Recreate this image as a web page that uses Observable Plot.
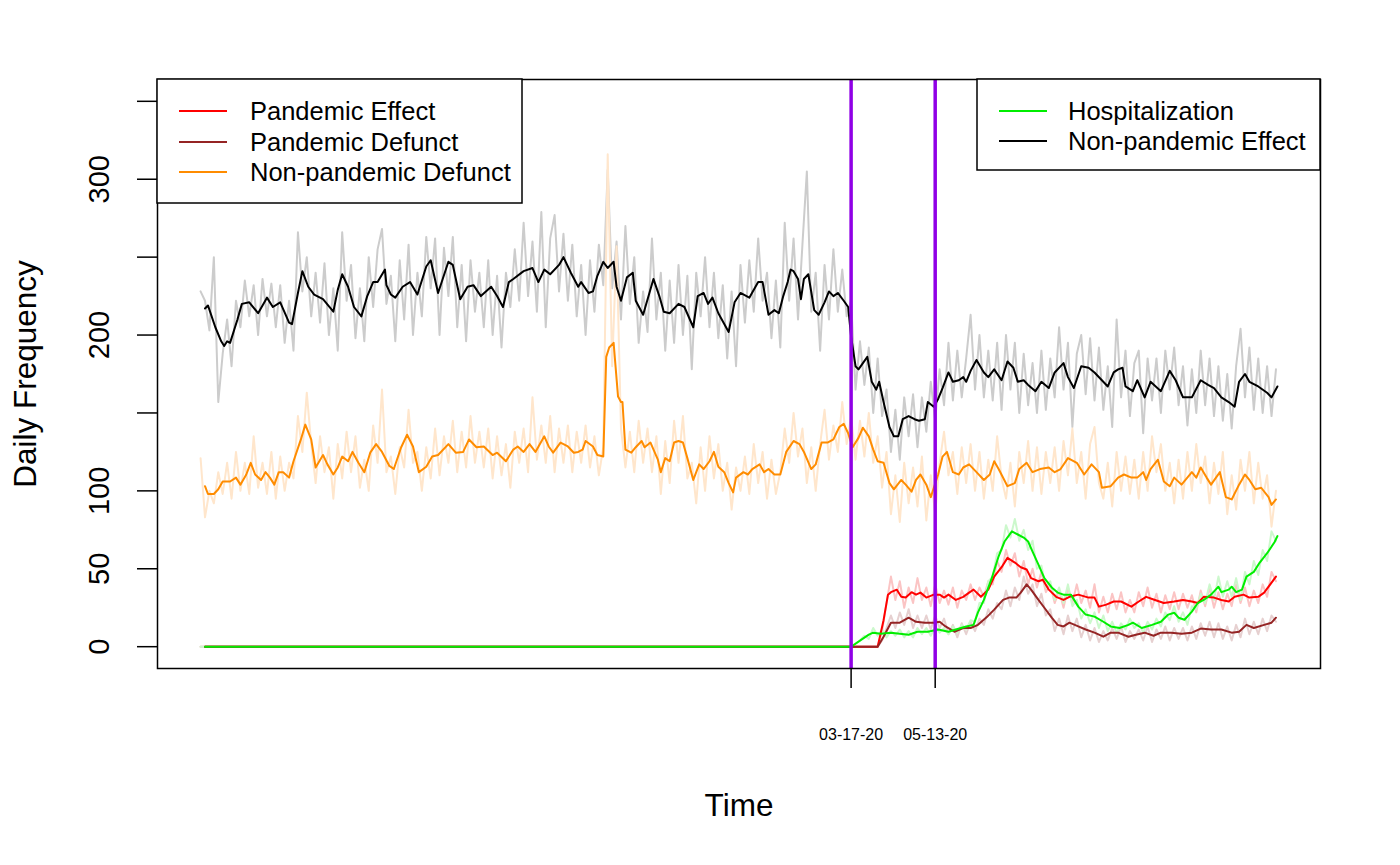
<!DOCTYPE html>
<html>
<head>
<meta charset="utf-8">
<script src="https://cdn.jsdelivr.net/npm/d3@7"></script>
<script src="https://cdn.jsdelivr.net/npm/@observablehq/plot@0.6"></script>
<style>
  html, body { margin: 0; padding: 0; background: #fff; }
  #chart svg { display: block; }
</style>
</head>
<body>
<div id="chart"></div>
<script>
// ---------- DATA ----------
const startDate = "2019-01-01";          // day 0 of the series
const markerDays = [441, 498];           // 03-17-20, 05-13-20
const rawStep = 3;                       // raw series sampled every 3 days
const pandemicRawStart = 441;

// Non-pandemic Effect (raw, grey)
const nonPandemicEffectRaw = [
228,222,203,250,157,188,210,180,222,205,
235,212,232,200,236,212,233,205,232,195,
222,190,266,228,250,212,240,208,246,200,
230,190,266,222,245,198,230,196,250,218,
255,268,220,238,196,248,210,258,200,240,
212,263,230,262,200,256,225,263,205,245,
196,248,215,240,205,248,200,238,192,240,
218,255,222,272,225,260,215,279,205,262,
277,228,265,222,258,212,245,200,248,215,
258,232,306,230,260,210,270,220,250,195,
228,202,262,210,240,190,235,195,245,200,
238,178,240,212,250,205,240,198,232,185,
228,180,245,208,248,215,262,222,240,198,
235,192,272,222,262,210,258,305,215,240,
190,245,210,255,215,242,212,222,165,196,
168,192,150,185,148,165,125,152,120,160,
135,162,128,160,138,170,145,178,155,195,
158,190,160,185,213,165,200,160,190,158,
195,152,200,165,195,150,188,155,182,150,
190,152,185,160,205,165,195,141,188,200,
162,198,158,192,152,180,141,210,160,190,
148,182,190,137,185,158,185,150,190,165,
192,155,180,142,178,150,190,155,185,148,
180,145,175,140,180,204,160,192,152,185,
150,180,148,178];

// Non-pandemic Defunct (raw, light orange)
const nonPandemicDefunctRaw = [
121,83,100,92,112,98,118,95,125,100,
118,98,135,102,118,98,125,95,122,100,
118,108,148,125,163,130,105,135,112,128,
95,130,108,138,112,135,102,120,100,142,
118,165,112,122,98,128,115,152,118,125,
100,128,108,140,110,135,118,145,112,138,
115,148,118,138,115,140,108,135,110,130,
102,138,118,140,112,160,120,142,118,148,
112,140,118,142,112,138,118,142,115,135,
110,128,316,180,257,140,115,138,112,145,
118,140,112,135,98,132,105,145,118,148,
108,118,92,128,100,135,108,130,100,118,
88,115,100,122,98,130,105,125,95,120,
98,112,140,118,150,122,140,105,128,100,
130,152,120,142,125,157,130,148,120,145,
122,150,118,135,102,125,85,110,80,118,
92,115,90,122,81,110,85,118,138,110,
125,98,128,105,130,100,125,95,120,100,
135,108,95,118,90,125,105,132,100,128,
98,125,105,128,100,132,110,140,105,125,
95,130,141,105,95,118,90,125,100,122,
98,120,95,125,100,135,112,130,100,118,
92,120,95,125,100,130,105,122,92,118,
98,125,85,110,88,120,100,125,92,118,
95,110,77,100];

// Pandemic raw series, every 3 days from day 441 (zero before)
const pandemicEffectRaw = [
0,0,0,0,0,0,0,
10,28,45,30,42,25,38,28,44,30,
38,26,40,28,36,27,38,25,36,30,
40,30,38,32,42,40,55,48,62,52,
60,45,55,40,50,38,48,35,40,28,
36,25,38,28,40,28,36,25,40,22,
32,22,34,24,35,22,30,22,35,26,
38,25,34,22,33,24,35,24,34,25,
33,22,36,26,38,25,35,24,34,26,
40,28,38,26,36,28,40,32,48,42];
const pandemicDefunctRaw = [
0,0,0,0,0,0,0,
4,12,20,12,22,14,24,12,20,12,
20,11,20,12,18,8,14,6,15,8,
16,10,18,14,24,18,28,24,36,26,
38,30,45,34,40,26,34,20,24,10,
18,8,20,10,18,6,14,4,12,3,
10,4,12,5,13,3,10,5,11,4,
13,3,11,5,13,4,12,5,12,4,
13,5,15,7,16,6,15,5,13,4,
14,6,18,8,16,8,18,10,20,16];
const hospitalizationRaw = [
0,2,4,7,5,12,7,
11,6,10,7,11,6,10,6,12,8,
12,7,13,9,12,8,13,9,14,11,
17,16,28,28,42,45,60,62,78,70,
82,68,75,62,68,50,52,38,42,30,
38,28,40,26,30,18,24,15,22,12,
20,10,16,9,15,11,18,12,15,9,
16,11,18,13,22,17,26,16,22,14,
26,24,34,28,40,30,45,32,42,32,
44,30,48,40,55,46,62,55,74,68];

// Smoothed series (day index, value)
const nonPandemicEffectDays = [3,5,10,14,16,18,20,25,28,33,39,45,49,54,60,62,66,69,73,77,83,90,93,96,100,104,109,113,117,120,125,126,129,132,137,142,147,153,156,161,168,171,176,181,185,190,197,201,205,209,212,219,225,229,233,237,243,246,251,256,258,263,266,269,273,276,280,282,285,289,293,295,300,307,311,314,318,324,328,334,337,341,344,347,351,358,362,366,372,378,381,385,389,392,395,398,400,402,405,407,409,412,416,419,423,426,429,432,436,439,441,444,446,449,452,455,458,460,463,467,470,473,476,480,484,487,491,493,497,500,503,507,510,514,517,519,522,526,531,534,538,543,547,551,554,558,561,566,570,575,579,585,588,592,597,602,606,611,615,619,622,625,627,632,635,640,644,651,657,661,666,672,678,683,687,692,697,701,704,708,711,717,723,726,730];
const nonPandemicEffectSmooth = [217,219,205,196,193,196,195,210,220,221,214,224,218,221,208,207,227,241,231,226,223,215,229,239,231,218,212,225,234,234,242,232,226,224,231,234,226,244,248,227,247,245,223,231,232,225,231,225,218,234,236,241,243,234,242,239,245,250,240,231,234,227,228,238,247,243,247,231,222,237,240,222,213,236,225,215,214,220,218,205,225,227,220,224,214,202,221,227,224,234,234,213,216,214,225,234,242,241,236,223,236,239,216,213,221,228,225,227,222,218,199,180,178,182,186,170,165,170,157,141,135,135,146,148,146,145,146,157,154,159,166,176,170,171,173,170,177,184,176,173,178,171,183,179,170,171,168,164,170,166,176,182,173,166,180,179,176,171,167,176,178,179,167,164,171,160,170,164,177,171,160,160,171,168,166,160,157,154,170,175,170,167,163,160,167];

const nonPandemicDefunctDays = [3,5,9,12,15,20,24,27,31,34,37,41,44,47,50,53,56,60,63,68,71,75,78,83,86,90,93,96,100,103,107,111,115,119,123,128,131,136,140,144,148,153,157,161,168,173,178,182,187,192,198,201,207,212,215,219,223,227,233,236,239,244,249,253,256,259,261,266,269,273,275,277,280,283,285,286,288,292,295,299,301,305,310,312,315,318,321,324,327,330,334,338,341,345,348,351,355,358,361,363,368,371,374,379,382,385,389,393,397,402,406,409,414,417,421,425,429,433,436,439,442,446,449,453,456,459,463,467,470,475,478,482,485,488,492,495,500,503,506,510,514,517,521,526,531,535,538,541,547,552,555,560,564,569,575,579,583,588,594,599,604,609,611,617,622,626,631,635,639,641,644,649,653,657,660,665,672,675,678,682,685,691,695,699,704,708,711,715,719,724,726,729];
const nonPandemicDefunctSmooth = [103,98,98,101,106,106,108.5,104,110.5,118,110.5,107,112,108.5,104,112,112,108.5,119,133,142.5,133,115,123,117,110.5,115,122,119,125,118,112,124.5,130,125,116,114,128,136,128.5,112,115.5,122,123,130,124.5,125,133,128,128.5,123,124.5,119,126.5,128.5,125,130,125,135,128.5,124.5,131,128.5,124.5,125,126.5,132,128.5,123,122,186,192,195,160.5,157,157,126.5,124.5,128,132,128,131,120,112,121,119,131,132,131,121,107,117,114,119,125,115.5,112,105,99,108.5,112,110.5,114,117,112,114,110.5,110.5,125,132,130,125,114,117,131,131,133,141,143,137,128,134,140.5,135,126.5,119,118,105,101,107,104,99.5,107,110.5,104,96,110.5,122,125,112,110.5,115,117,112,107,110.5,119,114,103,105,114,118,112,114,115,112,114,121,118,110.5,117,112,102,103,108.5,110.5,108.5,108.5,112,107,114,120,106,103,108.5,104,112,108.5,115,108.5,104,112,96,94.5,104,110.5,107,101,102,96,91,94.5];

const pandemicEffectDays = [3,459,463,466,468,472,475,478,482,485,488,492,497,501,504,507,512,517,521,524,529,534,538,543,547,552,556,560,563,568,571,575,580,585,589,595,602,606,609,614,619,624,631,636,641,647,653,660,666,672,676,680,687,692,697,701,707,711,717,721,724,729];
const pandemicEffectSmooth = [0,0,17,33.4,35,36.6,32,31.5,35,33.4,34.7,31.5,33.4,33.4,31.5,33.4,30,32,34.7,36.6,32,36.6,45,51,57,54,51,49.5,44,42,43,36.6,32,30,32,33.4,31.5,31.5,25.7,27,29,29,25.7,29,32,30,28,29,30,29,28,32,31.5,30,29,32,33.4,31.5,32,34.7,38.5,45];

const pandemicDefunctDays = [3,459,463,468,474,480,485,491,497,501,505,511,517,522,527,533,538,544,548,553,556,560,563,568,572,577,581,585,589,595,600,606,612,617,622,629,634,640,646,651,658,665,672,678,685,692,699,704,709,714,721,726,729];
const pandemicDefunctSmooth = [0,0,6.4,15.4,15.4,18.6,16,15.4,15.4,16,13,9.6,12,12,14,19,23.8,30,31.5,31.5,34.7,40,36.6,30,25,18.6,14,13,15.4,13,11,9,6.4,9,9,6.4,7.7,9,7,9,9,8.3,9,11.6,11,11,9,9.6,14,12,14,15.4,18.6];

const hospitalizationDays = [3,441,442,448,453,456,461,468,474,480,486,493,500,507,512,519,524,527,531,536,541,545,550,554,558,561,564,568,572,577,581,585,590,595,600,606,612,617,623,629,632,638,645,651,656,660,663,667,672,676,680,685,690,692,697,699,702,706,709,714,718,723,728,730];
const hospitalizationSmooth = [0,0,0.6,4.5,7.7,9,8.3,9,8.3,7.7,9.6,9.6,11,9.6,11,13,14,22,30,43,58,67.5,74,72,70,67.5,61,52.7,44,38,34.7,33.4,33.4,25.7,20.6,19.3,16,13,12,14,15.4,12,14,16,20.6,21.8,18.6,17.3,22.5,28,30,33.4,38.5,35,36.6,38.5,35,36.6,45,48,54,60,67,71];

const yTicks = [0, 50, 100, 150, 200, 250, 300, 350];
const yTickLabels = [0, 50, 100, 200, 300];

const legendLeft = ["Pandemic Effect", "Pandemic Defunct", "Non-pandemic Defunct"];
const legendRight = ["Hospitalization", "Non-pandemic Effect"];

// ---------- STYLE ----------
const colors = {
  "Pandemic Effect": "#ff0000",
  "Pandemic Defunct": "#952424",
  "Non-pandemic Defunct": "#ff8c00",
  "Hospitalization": "#00ee00",
  "Non-pandemic Effect": "#000000"
};
const rawColors = {
  grey: "#cccccc", orange: "#ffe6cc", red: "#fbc4c4", brown: "#e6d0d0", green: "#ccf8cc"
};
const purple = "#9000e6";

// ---------- BUILD ----------
const day0 = new Date(startDate);
const toDate = d => new Date(day0.getTime() + d * 864e5);
const pairRows = (days, vals) => days.slice(0, Math.min(days.length, vals.length)).map((d, i) => ({date: toDate(d), v: vals[i]}));
const stepRows = (start, vals) => vals.map((v, i) => ({date: toDate(start + i * rawStep), v}));
const pandemicRows = vals => [{date: toDate(0), v: 0}, ...stepRows(pandemicRawStart, vals)];

const markerDates = markerDays.map(toDate);
const fmt = d3.utcFormat("%m-%d-%y");

const lw = 2;
const plot = Plot.plot({
  width: 1400,
  height: 865,
  marginLeft: 157,
  marginRight: 80,
  marginTop: 79,
  marginBottom: 197,
  style: {fontFamily: "'Liberation Sans', Arial, Helvetica, sans-serif", background: "white", color: "black", overflow: "visible"},
  x: {type: "utc", domain: [toDate(-29.2), toDate(759.2)], label: null},
  y: {domain: [-14, 364], label: null},
  marks: [
    Plot.line(stepRows(0, nonPandemicEffectRaw), {x: "date", y: "v", stroke: rawColors.grey, strokeWidth: lw}),
    Plot.line(stepRows(0, nonPandemicDefunctRaw), {x: "date", y: "v", stroke: rawColors.orange, strokeWidth: lw}),
    Plot.line(pandemicRows(pandemicEffectRaw), {x: "date", y: "v", stroke: rawColors.red, strokeWidth: lw}),
    Plot.line(pandemicRows(pandemicDefunctRaw), {x: "date", y: "v", stroke: rawColors.brown, strokeWidth: lw}),
    Plot.line(pandemicRows(hospitalizationRaw), {x: "date", y: "v", stroke: rawColors.green, strokeWidth: lw}),
    Plot.line(pairRows(nonPandemicEffectDays, nonPandemicEffectSmooth), {x: "date", y: "v", stroke: colors["Non-pandemic Effect"], strokeWidth: lw}),
    Plot.line(pairRows(nonPandemicDefunctDays, nonPandemicDefunctSmooth), {x: "date", y: "v", stroke: colors["Non-pandemic Defunct"], strokeWidth: lw}),
    Plot.line(pairRows(pandemicEffectDays, pandemicEffectSmooth), {x: "date", y: "v", stroke: colors["Pandemic Effect"], strokeWidth: lw}),
    Plot.line(pairRows(pandemicDefunctDays, pandemicDefunctSmooth), {x: "date", y: "v", stroke: colors["Pandemic Defunct"], strokeWidth: lw}),
    Plot.line(pairRows(hospitalizationDays, hospitalizationSmooth), {x: "date", y: "v", stroke: colors["Hospitalization"], strokeWidth: lw}),
    Plot.ruleX(markerDates, {x: d => d, stroke: purple, strokeWidth: 3.5}),
    Plot.frame({stroke: "black", strokeWidth: 1.5}),
    Plot.axisY(yTicks, {tickSize: 20, tickFormat: () => "", strokeWidth: 1.5, label: null}),
    Plot.text(yTickLabels, {y: d => d, text: d => String(d), frameAnchor: "left", dx: -58, rotate: -90, textAnchor: "middle", lineAnchor: "middle", fontSize: 29, fill: "black"}),
    Plot.axisX(markerDates, {tickSize: 20, tickPadding: 40, tickFormat: fmt, fontSize: 16, strokeWidth: 1.5, label: null}),
    Plot.text(["Time"], {text: d => d, frameAnchor: "bottom", dy: 137, textAnchor: "middle", lineAnchor: "middle", fontSize: 31.5, fill: "black"}),
    Plot.text(["Daily Frequency"], {text: d => d, frameAnchor: "left", dx: -132, rotate: -90, textAnchor: "middle", lineAnchor: "middle", fontSize: 31.5, fill: "black"})
  ]
});

document.getElementById("chart").appendChild(plot);

// ---------- LEGENDS ----------
const svg = d3.select(plot);
function drawLegend(box, items, rowYs, lineX0, lineX1, textX) {
  const g = svg.append("g").attr("text-anchor", "start");
  g.append("rect").attr("x", box.x).attr("y", box.y).attr("width", box.w).attr("height", box.h)
    .attr("fill", "white").attr("stroke", "black").attr("stroke-width", 1.5);
  items.forEach((name, i) => {
    g.append("line").attr("x1", lineX0).attr("x2", lineX1).attr("y1", rowYs[i]).attr("y2", rowYs[i])
      .attr("stroke", colors[name]).attr("stroke-width", 2);
    g.append("text").attr("x", textX).attr("y", rowYs[i]).attr("dy", "0.35em")
      .attr("text-anchor", "start").attr("font-size", 25.5).attr("fill", "black").text(name);
  });
}
drawLegend({x: 157, y: 79, w: 365, h: 124}, legendLeft, [111, 142, 172], 179, 227, 250);
drawLegend({x: 977, y: 79, w: 343, h: 91}, legendRight, [111, 141], 999, 1047, 1068);
</script>
</body>
</html>
